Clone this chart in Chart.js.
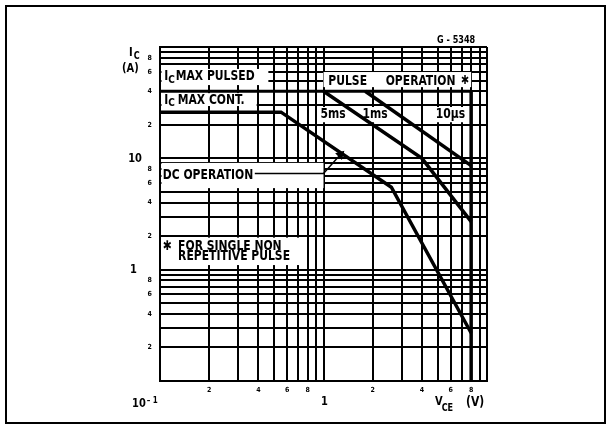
<!DOCTYPE html>
<html>
<head>
<meta charset="utf-8">
<script src="https://cdn.jsdelivr.net/npm/chart.js@4.4.0/dist/chart.umd.min.js"></script>
<style>
html, body { margin: 0; padding: 0; background: #fff; }
</style>
</head>
<body>
<canvas id="soa" width="612" height="430"></canvas>
<script>
// Safe operating area, I_C (A) against V_CE (V), log-log

// DC operation limit
var dcVce = [0.1, 0.55, 2.6, 8];
var dcIc = [26, 26, 5.5, 0.27];
// pulse curve (left one)
var p5msVce = [1, 4, 8];
var p5msIc = [40, 10, 2.7];
// pulse curve (right one)
var p1msVce = [1.8, 8];
var p1msIc = [40, 8.6];
// I_C max pulsed
var pulsedVce = [0.1, 8];
var pulsedIc = [40, 40];
// V_CEO limit
var vceoVce = [8, 8];
var vceoIc = [40, 0.1];
// pointer from the "DC OPERATION" label
var pointerVce = [0.38, 1, 1.27];
var pointerIc = [7.3, 7.3, 10.8];

// grid and tick labels
var xTicks = [0.1, 0.2, 0.3, 0.4, 0.5, 0.6, 0.7, 0.8, 0.9, 1, 2, 3, 4, 5, 6, 7, 8, 9, 10];
var xTickLabels = ['', '2', '', '4', '', '6', '', '8', '', '', '2', '', '4', '', '6', '', '8', '', ''];
var yTicks = [0.1, 0.2, 0.3, 0.4, 0.5, 0.6, 0.7, 0.8, 0.9,
              1, 2, 3, 4, 5, 6, 7, 8, 9,
              10, 20, 30, 40, 50, 60, 70, 80, 90, 100];
var yTickLabels = ['', '2', '', '4', '', '6', '', '8', '',
                   '', '2', '', '4', '', '6', '', '8', '',
                   '', '2', '', '4', '', '6', '', '8', '', ''];

var FONT = '"DejaVu Sans Condensed", "DejaVu Sans", sans-serif';

function series(xs, ys, width) {
    return {
        data: xs.map(function (x, i) { return {x: x, y: ys[i]}; }),
        borderColor: '#000',
        backgroundColor: '#000',
        borderWidth: width,
        pointRadius: 0,
        borderJoinStyle: 'miter',
        tension: 0
    };
}

var pointer = series(pointerVce, pointerIc, 1.5);
pointer.pointRadius = [0, 0, 4];
pointer.pointStyle = 'triangle';
pointer.pointRotation = 45;

// white label backgrounds, [x0, x1, y0, y1] in axis units
var boxes = [
    [0.1, 0.46, 45.5, 63.5],
    [0.1, 0.39, 29.5, 38.5],
    [1.0, 8.0, 43.6, 59.6],
    [0.92, 1.44, 21.1, 28.9],
    [1.69, 2.54, 21.1, 28.9],
    [4.73, 7.5, 21.1, 28.9],
    [0.1, 1.0, 5.4, 9.1],
    [0.1, 0.71, 1.1, 1.94]
];

// text is a little taller than the font, like the stencil lettering
function txt(ctx, s, x, y, size, align) {
    ctx.font = 'bold ' + size + 'px ' + FONT;
    ctx.textAlign = align || 'left';
    ctx.save();
    ctx.translate(x, y);
    ctx.scale(1, 1.12);
    ctx.fillText(s, 0, 0);
    ctx.restore();
    return ctx.measureText(s).width;
}

var overlay = {
    id: 'overlay',
    beforeDraw: function (chart) {
        var ctx = chart.ctx;
        ctx.save();
        ctx.fillStyle = '#fff';
        ctx.fillRect(0, 0, chart.width, chart.height);
        ctx.restore();
    },
    beforeDatasetsDraw: function (chart) {
        var ctx = chart.ctx, xs = chart.scales.x, ys = chart.scales.y;
        ctx.save();
        ctx.fillStyle = '#fff';
        boxes.forEach(function (b) {
            var l = Math.max(xs.getPixelForValue(b[0]), chart.chartArea.left + 1.5);
            var r = xs.getPixelForValue(b[1]);
            var t = ys.getPixelForValue(b[3]);
            var btm = ys.getPixelForValue(b[2]);
            ctx.fillRect(l, t, r - l, btm - t);
        });
        ctx.restore();
    },
    afterDatasetsDraw: function (chart) {
        var ctx = chart.ctx, xs = chart.scales.x, ys = chart.scales.y;
        function px(v) { return xs.getPixelForValue(v); }
        function py(v) { return ys.getPixelForValue(v); }
        ctx.save();
        ctx.fillStyle = '#000';
        ctx.textBaseline = 'middle';

        // labels inside the plot
        var x = px(0.106), w;
        w = txt(ctx, 'I', x, py(54.7), 12);
        w += txt(ctx, 'C', x + w, py(54.7) + 4, 10);
        txt(ctx, 'MAX PULSED', x + w + 1, py(54.7), 12);

        w = txt(ctx, 'I', x, py(33.3), 12);
        w += txt(ctx, 'C', x + w, py(33.3) + 3, 10);
        txt(ctx, 'MAX CONT.', x + w + 3, py(33.3), 12);

        txt(ctx, 'PULSE', px(1.07), py(49.4), 12);
        txt(ctx, 'OPERATION', px(2.4), py(49.4), 12);
        txt(ctx, '\u2731', px(6.9), py(49.4), 11);

        txt(ctx, '5ms', px(0.96), py(24.9), 12);
        txt(ctx, '1ms', px(1.73), py(24.9), 12);
        txt(ctx, '10\u00b5s', px(4.86), py(24.9), 12);

        txt(ctx, 'DC OPERATION', px(0.104), py(6.96), 12);

        txt(ctx, '\u2731', px(0.104), py(1.61), 12);
        txt(ctx, 'FOR SINGLE NON', px(0.129), py(1.61), 12);
        txt(ctx, 'REPETITIVE PULSE', px(0.129), py(1.31), 12);

        // major tick labels
        txt(ctx, '10', px(0.1) - 18, py(10), 11, 'right');
        txt(ctx, '1', px(0.1) - 23, py(1), 11, 'right');
        txt(ctx, '1', px(1) + 1, xs.top + 21, 11, 'center');
        w = txt(ctx, '10', 132, xs.top + 23, 11);
        txt(ctx, '\u2013 1', 132 + w + 1, xs.top + 20, 8);

        // axis titles
        w = txt(ctx, 'I', 129, 53, 11);
        txt(ctx, 'C', 129 + w + 1, 56, 9);
        txt(ctx, '(A)', 122, 69, 11);
        w = txt(ctx, 'V', 435, 402, 11);
        txt(ctx, 'CE', 435 + w - 1, 408, 9);
        txt(ctx, '(V)', 466, 402, 12);

        txt(ctx, 'G - 5348', 437, 40, 9);

        // outer frame
        ctx.strokeStyle = '#000';
        ctx.lineWidth = 2;
        ctx.strokeRect(6, 6, 599, 417);
        ctx.restore();
    }
};

new Chart(document.getElementById('soa'), {
    type: 'line',
    data: {
        datasets: [
            series(dcVce, dcIc, 3.5),
            series(p5msVce, p5msIc, 3.5),
            series(p1msVce, p1msIc, 3.5),
            series(pulsedVce, pulsedIc, 3),
            series(vceoVce, vceoIc, 3.5),
            pointer
        ]
    },
    options: {
        responsive: false,
        animation: false,
        layout: { padding: { left: 0, top: 47, right: 125, bottom: 0 } },
        plugins: { legend: { display: false }, tooltip: { enabled: false } },
        scales: {
            x: {
                type: 'logarithmic',
                min: 0.1,
                max: 10,
                afterBuildTicks: function (s) {
                    s.ticks = xTicks.map(function (v) { return {value: v}; });
                },
                afterFit: function (s) { s.height = 49; },
                grid: { color: '#000', lineWidth: 2, drawTicks: false },
                border: { color: '#000', width: 2 },
                ticks: {
                    autoSkip: false,
                    maxRotation: 0,
                    padding: 5,
                    color: '#000',
                    font: { family: FONT, size: 7, weight: 'bold' },
                    callback: function (v, i) { return xTickLabels[i]; }
                }
            },
            y: {
                type: 'logarithmic',
                min: 0.1,
                max: 100,
                afterBuildTicks: function (s) {
                    s.ticks = yTicks.map(function (v) { return {value: v}; });
                },
                afterFit: function (s) { s.width = 160; },
                grid: { color: '#000', lineWidth: 2, drawTicks: false },
                border: { color: '#000', width: 2 },
                ticks: {
                    autoSkip: false,
                    padding: 8,
                    color: '#000',
                    font: { family: FONT, size: 7, weight: 'bold' },
                    callback: function (v, i) { return yTickLabels[i]; }
                }
            }
        }
    },
    plugins: [overlay]
});
</script>
</body>
</html>
